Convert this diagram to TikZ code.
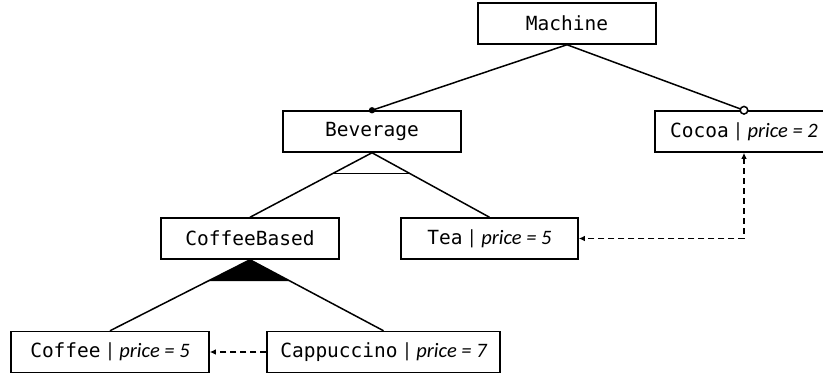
\documentclass[tikz,border=0pt]{standalone}
\usepackage{fontspec}
\usetikzlibrary{arrows.meta,calc}
\newfontfamily\featmono{DejaVu Sans Mono}
\newfontfamily\featsans{Carlito}
% feature name in monospace, followed by an italic price attribute
\newcommand\featname[1]{{\fontsize{19.5}{22}\selectfont\featmono #1}}
\newcommand\pricedfeat[2]{\featname{#1}{\fontsize{20.5}{24}\selectfont\featsans\ \textbar\ \itshape price = #2}}
\tikzset{ctip/.tip={Latex[length=6pt,width=5.5pt]}}
\begin{document}
\begin{tikzpicture}[x=1pt,y=-1pt,
  feature/.style={draw,line width=1.5pt,inner sep=0pt,minimum height=41pt,fill=white},
  tree/.style={line width=1.5pt},
  constraint/.style={line width=1.5pt,dash pattern=on 6pt off 4pt}]
\useasboundingbox (0,0) rectangle (823,373);

% features
\node[feature,minimum width=178pt] (machine) at (567,23.5) {\featname{Machine}};
\node[feature,minimum width=178pt] (beverage) at (372,131.5) {\featname{Beverage}};
\node[feature,minimum width=178pt] (cocoa) at (744,131.5) {\pricedfeat{Cocoa}{2}};
\node[feature,minimum width=178pt] (coffeebased) at (250,238.5) {\featname{CoffeeBased}};
\node[feature,minimum width=177pt] (tea) at (489.5,238.5) {\pricedfeat{Tea}{5}};
\node[feature,minimum width=198pt] (coffee) at (110,352) {\pricedfeat{Coffee}{5}};
\node[feature,minimum width=233pt] (cappuccino) at (383.5,352) {\pricedfeat{Cappuccino}{7}};

% mandatory and optional children of the root
\draw[tree] (machine.south) -- (beverage.north);
\draw[tree] (machine.south) -- (cocoa.north);
\fill (beverage.north) circle (3.2pt);
\draw[tree,fill=white] (cocoa.north) circle (3.8pt);

% alternative group under Beverage
\draw[tree] (beverage.south) -- (coffeebased.north);
\draw[tree] (beverage.south) -- (tea.north);
\draw[tree] ($(beverage.south)!0.318!(coffeebased.north)$) -- ($(beverage.south)!0.318!(tea.north)$);

% or group under CoffeeBased
\draw[tree] (coffeebased.south) -- (coffee.north);
\draw[tree] (coffeebased.south) -- (cappuccino.north);
\fill (coffeebased.south) -- ($(coffeebased.south)!0.30!(coffee.north)$) -- ($(coffeebased.south)!0.30!(cappuccino.north)$) -- cycle;

% cross-tree constraints
\draw[constraint,-ctip] (cappuccino.west) -- (coffee.east);
\draw[constraint,ctip-ctip] (cocoa.south) |- (tea.east);
\end{tikzpicture}
\end{document}
